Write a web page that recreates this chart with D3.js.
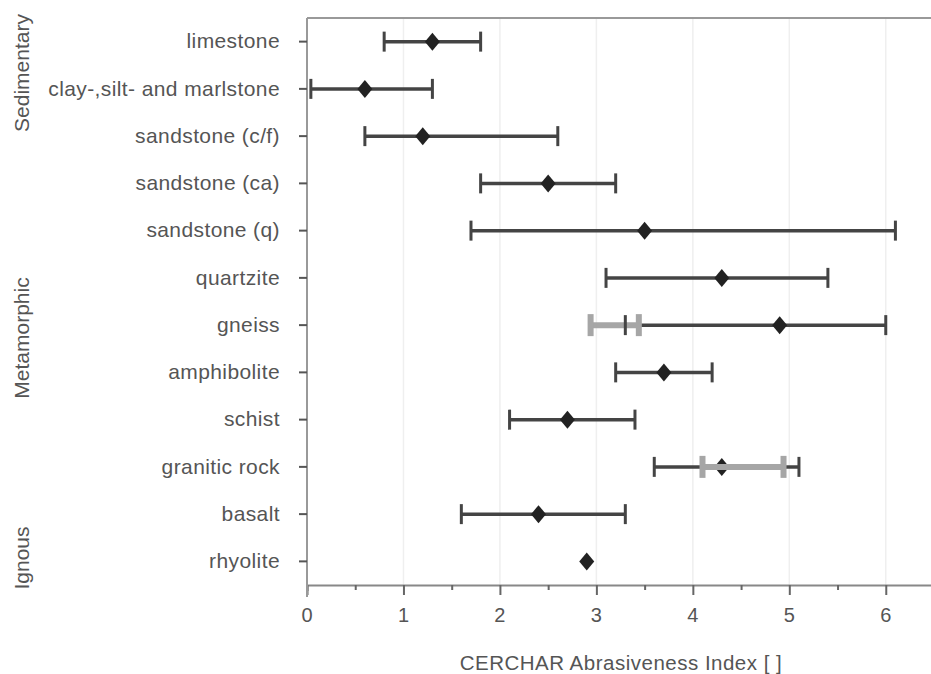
<!DOCTYPE html>
<html>
<head>
<meta charset="utf-8">
<script src="https://cdn.jsdelivr.net/npm/d3@7"></script>
<style>
  body { margin: 0; background: #fff; }
  text { font-family: "Liberation Sans", Arial, sans-serif; fill: #555; }
</style>
</head>
<body>
<div id="chart"></div>
<script>
// rock types, top to bottom
const rocks = ['limestone', 'clay-,silt- and marlstone', 'sandstone (c/f)', 'sandstone (ca)',
  'sandstone (q)', 'quartzite', 'gneiss', 'amphibolite', 'schist', 'granitic rock', 'basalt', 'rhyolite'];
const meanCAI = [1.3, 0.6, 1.2, 2.5, 3.5, 4.3, 4.9, 3.7, 2.7, 4.3, 2.4, 2.9];
const minCAI = [0.8, 0.04, 0.6, 1.8, 1.7, 3.1, 3.3, 3.2, 2.1, 3.6, 1.6, null];
const maxCAI = [1.8, 1.3, 2.6, 3.2, 6.1, 5.4, 6.0, 4.2, 3.4, 5.1, 3.3, null];

// second (grey) ranges
const greyRocks = ['gneiss', 'granitic rock'];
const greyMin = [2.94, 4.1];
const greyMax = [3.44, 4.94];

const groups = ['Sedimentary', 'Metamorphic', 'Ignous'];
const groupCenters = [73, 338, 558];
const xTicks = [0, 1, 2, 3, 4, 5, 6];

const width = 931, height = 674;
const margin = { top: 18, left: 307 };
const plotBottom = 585;
const plotRight = 934;

const svg = d3.select('#chart')
  .append('svg')
  .attr('width', width)
  .attr('height', height);

const x = d3.scaleLinear().domain([0, 6.5]).range([margin.left, plotRight]);
const y = d3.scaleBand().domain(rocks).range([margin.top, plotBottom]);
const yc = d => y(d) + y.bandwidth() / 2;

// faint gridlines
svg.append('g')
  .selectAll('line')
  .data(xTicks.slice(1))
  .join('line')
  .attr('x1', d => x(d)).attr('x2', d => x(d))
  .attr('y1', margin.top).attr('y2', plotBottom)
  .attr('stroke', '#efefef')
  .attr('stroke-width', 1.5);

// frame top
svg.append('line')
  .attr('x1', margin.left).attr('x2', width)
  .attr('y1', margin.top).attr('y2', margin.top)
  .attr('stroke', '#999').attr('stroke-width', 2);

// x axis
const xAxis = svg.append('g')
  .attr('transform', `translate(0,${plotBottom})`)
  .call(d3.axisBottom(x).tickValues(d3.range(0, 6.6, 0.5)).tickSize(6).tickFormat(''));
xAxis.select('.domain').attr('stroke', '#888').attr('stroke-width', 2);
xAxis.selectAll('.tick line').attr('stroke', '#666').attr('stroke-width', 2)
  .attr('y2', d => Number.isInteger(d) ? 10 : 5);
svg.append('g')
  .selectAll('text')
  .data(xTicks)
  .join('text')
  .attr('x', d => x(d))
  .attr('y', 622)
  .attr('text-anchor', 'middle')
  .style('font-size', '20px')
  .text(d => d);

svg.append('text')
  .attr('x', 621).attr('y', 670)
  .attr('text-anchor', 'middle')
  .style('font-size', '20.5px')
  .style('letter-spacing', '0.5px')
  .text('CERCHAR Abrasiveness Index [ ]');

// y axis
const yAxis = svg.append('g')
  .attr('transform', `translate(${margin.left},0)`)
  .call(d3.axisLeft(y).tickSize(8).tickPadding(19).tickSizeOuter(0));
yAxis.select('.domain').attr('stroke', '#999').attr('stroke-width', 2)
  .attr('d', `M0,${margin.top}V${plotBottom + 12}`);
yAxis.selectAll('.tick line').attr('stroke', '#555').attr('stroke-width', 2);
yAxis.selectAll('.tick text')
  .style('font-size', '21px')
  .style('letter-spacing', '0.4px')
  .style('fill', '#555')
  .style('font-family', '"Liberation Sans", Arial, sans-serif');

// group labels
svg.append('g')
  .selectAll('text')
  .data(groups)
  .join('text')
  .attr('transform', (d, i) => `translate(29,${groupCenters[i]}) rotate(-90)`)
  .attr('text-anchor', 'middle')
  .style('font-size', '21px')
  .text(d => d);

const rows = rocks.map((r, i) => ({ rock: r, mean: meanCAI[i], lo: minCAI[i], hi: maxCAI[i] }));
const ranged = rows.filter(d => d.lo != null);
const capH = 10;
const barColor = '#444';

// black range lines
svg.append('g')
  .selectAll('line')
  .data(ranged)
  .join('line')
  .attr('x1', d => x(d.lo)).attr('x2', d => x(d.hi))
  .attr('y1', d => yc(d.rock)).attr('y2', d => yc(d.rock))
  .attr('stroke', barColor).attr('stroke-width', 3.5);

// mean diamonds
svg.append('g')
  .selectAll('path')
  .data(rows)
  .join('path')
  .attr('transform', d => `translate(${x(d.mean)},${yc(d.rock)})`)
  .attr('d', 'M0,-9L7.5,0L0,9L-7.5,0Z')
  .attr('fill', '#222');

// grey ranges
const greyRows = greyRocks.map((r, i) => ({ rock: r, lo: greyMin[i], hi: greyMax[i] }));
const gg = svg.append('g');
gg.selectAll('line.g')
  .data(greyRows)
  .join('line')
  .attr('x1', d => x(d.lo)).attr('x2', d => x(d.hi))
  .attr('y1', d => yc(d.rock)).attr('y2', d => yc(d.rock))
  .attr('stroke', '#a6a6a6').attr('stroke-width', 6);
gg.selectAll('rect')
  .data(greyRows.flatMap(d => [d.lo, d.hi].map(v => ({ rock: d.rock, v }))))
  .join('rect')
  .attr('x', d => x(d.v) - 3)
  .attr('y', d => yc(d.rock) - 11)
  .attr('width', 6)
  .attr('height', 22)
  .attr('fill', '#a6a6a6');

// black caps
svg.append('g')
  .selectAll('line')
  .data(ranged.flatMap(d => [d.lo, d.hi].map(v => ({ rock: d.rock, v }))))
  .join('line')
  .attr('x1', d => x(d.v)).attr('x2', d => x(d.v))
  .attr('y1', d => yc(d.rock) - capH).attr('y2', d => yc(d.rock) + capH)
  .attr('stroke', barColor).attr('stroke-width', 3);
</script>
</body>
</html>
